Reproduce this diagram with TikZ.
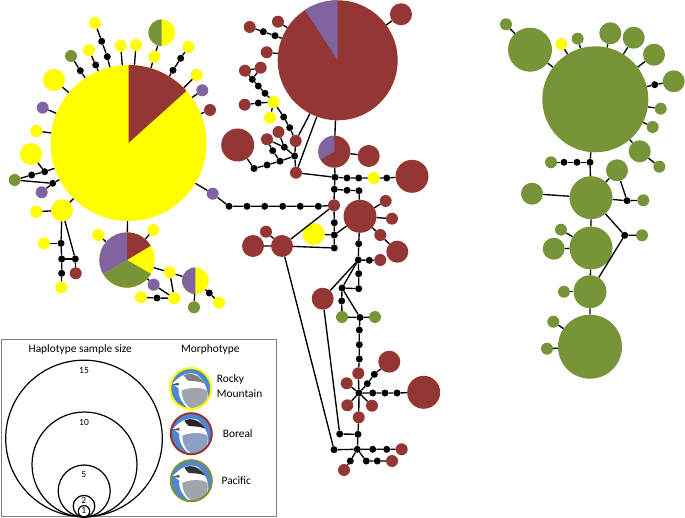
\documentclass[tikz,border=0pt]{standalone}
\usepackage{fontspec}
\setmainfont{Carlito}
\usepackage{tikz}
\usetikzlibrary{calc}
\definecolor{brn}{HTML}{943634}
\definecolor{yel}{HTML}{FFFF00}
\definecolor{grn}{HTML}{789438}
\definecolor{pur}{HTML}{8064A2}
\definecolor{sky}{HTML}{4F86D0}
\definecolor{wingA}{HTML}{A0A4AC}
\definecolor{wingB}{HTML}{8E9FC6}
\tikzset{
  hap/.style = {circle, inner sep = 0pt, fill = #1},
  hs/.style = {hap = #1, minimum size = 12pt},
  hm/.style = {hap = #1, minimum size = 22pt},
  hl/.style = {hap = #1, minimum size = 33pt},
  mv/.style = {circle, inner sep = 0pt, fill = black, minimum size = 7pt},
  link/.style = {line width = 1.35pt, black},
  scale ring/.style = {draw = black, line width = 1.2pt},
  txt/.style = {font = \fontsize{11.4pt}{13pt}\selectfont, inner sep = 0pt},
  num/.style = {font = \fontsize{9.5pt}{11pt}\selectfont, inner sep = 0pt}
}
% pie slice: node, start, end, radius, colour
\newcommand{\wedgeof}[5]{\fill[#5] (#1.center) -- ++(#2:#4pt) arc[start angle = #2, end angle = #3, radius = #4pt] -- cycle;}
% legend portrait: centre node, cap colour, wing colour
\newcommand{\gull}[3]{
  \begin{scope}[shift = {(#1.center)}]
    \clip (0,0) circle[radius = 20pt];
    \fill[sky] (-22,-22) rectangle (22,22);
    \fill[white] (-18,-5) .. controls (-10,-14) and (-2,-17) .. (6,-14) .. controls (13,-9) and (17,0) .. (17,8) .. controls (17,16) and (10,22) .. (0,22) .. controls (-8,16) and (-13,8) .. (-12,0) -- cycle;
    \fill[#3] (-9,2) .. controls (-2,-1) and (10,-2) .. (16,2) .. controls (18,10) and (14,20) .. (4,21) .. controls (-3,20) and (-9,12) .. cycle;
    \fill[#2] (-7,-13) .. controls (0,-17) and (9,-13) .. (14,-5) .. controls (8,-8) and (0,-7) .. (-3,-8) -- cycle;
    \fill[black!70] (-18,-4) -- (-12,-6) -- (-12,-3) -- cycle;
  \end{scope}
}

\begin{document}
\begin{tikzpicture}[x = 1pt, y = -1pt]
    \useasboundingbox (0,0) rectangle (685,518);

    % left group
    \node[hap = yel, minimum size = 156pt] (a0) at (128.5,143) {};
    \node[hs = yel] (a1) at (95,23) {};
    \node[mv] (a1p) at (101.7,41.3) {};
    \node[mv] (a1q) at (107.3,56.7) {};
    \node[hs = yel] (a2) at (89,50.3) {};
    \node[mv] (a2p) at (95.7,65) {};
    \node[hs = grn] (a3) at (71,56) {};
    \node[mv] (a3p) at (80.3,70.7) {};
    \node[hs = yel] (a4) at (120.7,45.7) {};
    \node[hs = yel] (a5) at (136,45) {};
    \node[hs = yel] (a6) at (154.3,56.7) {};
    \node[hap = yel, minimum size = 26.6pt] (a7) at (161.7,32.7) {};
    \node[hs = yel] (a8) at (188.3,47) {};
    \node[mv] (a8p) at (180.7,58.3) {};
    \node[mv] (a8q) at (173,70.3) {};
    \node[hs = yel] (a9) at (196.7,75) {};
    \node[hs = pur] (a10) at (202.3,90.3) {};
    \node[hs = brn] (a11) at (210,110) {};
    \node[hm = yel] (a12) at (54,80) {};
    \node[hs = pur] (a13) at (42.7,107.7) {};
    \node[hs = yel] (a14) at (36.3,131) {};
    \node[hm = yel] (a15) at (31,154) {};
    \node[mv] (a15p) at (44.7,171.7) {};
    \node[mv] (a16p) at (31.7,175) {};
    \node[hs = grn] (a16) at (14.7,180) {};
    \node[mv] (a17p) at (52.7,183.3) {};
    \node[hs = pur] (a17) at (41.7,192.3) {};
    \node[hm = yel] (a18) at (62,210.3) {};
    \node[hs = yel] (a19) at (36.3,211.7) {};
    \node[mv] (a20p) at (61,243.3) {};
    \node[hs = yel] (a20) at (44,243.3) {};
    \node[mv] (a21p) at (61.7,259) {};
    \node[mv] (a21q) at (61.7,273.3) {};
    \node[hs = yel] (a21) at (61.3,287.3) {};
    \node[mv] (a22p) at (75.3,259) {};
    \node[hs = brn] (a22) at (75.7,273.3) {};
    \node[hap = yel, minimum size = 55.4pt] (a23) at (127,260) {};
    \node[hs = yel] (a24) at (98.3,235) {};
    \node[hs = yel] (a25) at (153.3,230) {};
    \node[hs = yel] (a26) at (169.7,272.3) {};
    \node[hap = yel, minimum size = 26.6pt] (a27) at (195.3,280.7) {};
    \node[hs = pur] (a28) at (153.7,284.7) {};
    \node[hs = yel] (a29) at (174.3,298.3) {};
    \node[mv] (a30p) at (157,298) {};
    \node[hs = yel] (a30) at (141,297.3) {};
    \node[hs = grn] (a31) at (194,307.3) {};
    \node[mv] (a32p) at (209.3,293) {};
    \node[hs = yel] (a32) at (219,302.7) {};
    \node[hs = pur] (a33) at (212.7,193.7) {};

    \draw[link] (a1) -- (a1p) -- (a1q) -- (a0);
    \draw[link] (a2) -- (a2p) -- (a0);
    \draw[link] (a3) -- (a3p) -- (a0);
    \draw[link] (a4) -- (a0);
    \draw[link] (a5) -- (a0);
    \draw[link] (a7) -- (a6) -- (a0);
    \draw[link] (a8) -- (a8p) -- (a8q) -- (a0);
    \draw[link] (a9) -- (a0);
    \draw[link] (a10) -- (a0);
    \draw[link] (a11) -- (a0);
    \draw[link] (a12) -- (a0);
    \draw[link] (a13) -- (a0);
    \draw[link] (a14) -- (a0);
    \draw[link] (a15) -- (a15p) -- (a0);
    \draw[link] (a16) -- (a16p) -- (a15p);
    \draw[link] (a16) -- (a17p) -- (a0);
    \draw[link] (a17) -- (a17p);
    \draw[link] (a19) -- (a18) -- (a0);
    \draw[link] (a18) -- (a20p) -- (a21p) -- (a21q) -- (a21);
    \draw[link] (a20) -- (a20p);
    \draw[link] (a18) -- (a22p) -- (a22);
    \draw[link] (a21p) -- (a22p);
    \draw[link] (a0) -- (a23);
    \draw[link] (a24) -- (a23);
    \draw[link] (a25) -- (a23);
    \draw[link] (a23) -- (a26) -- (a27);
    \draw[link] (a26) -- (a29);
    \draw[link] (a23) -- (a28) -- (a29);
    \draw[link] (a30) -- (a30p) -- (a29);
    \draw[link] (a27) -- (a31);
    \draw[link] (a27) -- (a32p) -- (a32);

    \wedgeof{a0}{42}{90}{78}{brn}
    \wedgeof{a7}{90}{270}{13.3}{grn}
    \wedgeof{a23}{31}{90}{27.7}{brn}
    \wedgeof{a23}{-150}{-30}{27.7}{grn}
    \wedgeof{a23}{90}{210}{27.7}{pur}
    \wedgeof{a27}{90}{270}{13.3}{pur}

    % middle group
    \node[hap = brn, minimum size = 120pt] (b0) at (337.7,60.3) {};
    \node[hm = brn] (b1) at (401,14.3) {};
    \node[hs = brn] (b2) at (278,21.7) {};
    \node[hs = brn] (b3) at (249.7,27) {};
    \node[mv] (b3p) at (263.3,31.7) {};
    \node[mv] (b3q) at (275,35.7) {};
    \node[hs = brn] (b4) at (266.7,52.3) {};
    \node[hs = brn] (b5) at (245,70.7) {};
    \node[hs = brn] (b6) at (260.7,67.7) {};
    \node[mv] (b6p) at (252.3,79.3) {};
    \node[mv] (b6q) at (258.3,86) {};
    \node[mv] (b6r) at (265,93.3) {};
    \node[hs = yel] (b7) at (273.7,102) {};
    \node[mv] (b8p) at (258.3,103) {};
    \node[hs = brn] (b8) at (244.7,104.7) {};
    \node[hs = yel] (b9) at (270,117.7) {};
    \node[mv] (b10p) at (283.7,117) {};
    \node[mv] (b10q) at (289.7,127.7) {};
    \node[hs = brn] (b10) at (295.7,141) {};
    \node[hs = brn] (b11) at (278.5,132) {};
    \node[hs = brn] (b12) at (267,139.3) {};
    \node[mv] (b11p) at (284.3,147.2) {};
    \node[mv] (b12p) at (272.7,150.7) {};
    \node[mv] (b13) at (294.7,156) {};
    \node[mv] (b14p) at (280,161.2) {};
    \node[mv] (b14q) at (267,165) {};
    \node[mv] (b14r) at (254,168.5) {};
    \node[hl = brn] (b14) at (237.7,145) {};
    \node[hs = brn] (b15) at (296,172.7) {};
    \node[hap = brn, minimum size = 32pt] (b16) at (334.3,151.7) {};
    \node[hm = brn] (b17) at (368.7,156) {};
    \node[mv] (c1) at (335,177.3) {};
    \node[mv] (c1p) at (347,178) {};
    \node[mv] (c1q) at (358.7,178) {};
    \node[hs = yel] (c2) at (373.7,178) {};
    \node[mv] (c2p) at (386.7,178) {};
    \node[hl = brn] (c3) at (412,176.3) {};
    \node[mv] (c4) at (334.3,189.3) {};
    \node[mv] (c4p) at (347,190.3) {};
    \node[mv] (c4q) at (359,190.7) {};
    \node[hl = brn] (c5) at (360,216.3) {};
    \node[hs = brn] (c6) at (334,205.3) {};
    \node[mv] (c6a) at (229,206.3) {};
    \node[mv] (c6b) at (247,206.3) {};
    \node[mv] (c6c) at (264.7,206.3) {};
    \node[mv] (c6d) at (282.7,206.3) {};
    \node[mv] (c6e) at (300.3,206.3) {};
    \node[mv] (c6f) at (318.3,206.3) {};
    \node[mv] (c7) at (334.3,222.7) {};
    \node[mv] (c8) at (334.3,235) {};
    \node[mv] (c9) at (334.3,248) {};
    \node[hm = yel] (c10) at (313.7,234) {};
    \node[hm = brn] (c11) at (282,246) {};
    \node[hm = brn] (c12) at (253,246) {};
    \node[hs = brn] (c13) at (266,231.7) {};
    \node[hs = brn] (c14) at (385.7,201) {};
    \node[hs = brn] (c15) at (392,218.7) {};
    \node[hs = brn] (c16) at (380.3,235) {};
    \node[hm = brn] (c17) at (397.3,251.7) {};
    \node[mv] (c18) at (358.7,243.7) {};
    \node[mv] (c19) at (358.3,260) {};
    \node[mv] (c20p) at (369.3,260.3) {};
    \node[hs = brn] (c20) at (380.3,260) {};
    \node[mv] (c21) at (358.7,273.7) {};
    \node[mv] (c22) at (358.7,288.7) {};
    \node[mv] (c23) at (342,288) {};
    \node[mv] (c24) at (341.7,301) {};
    \node[hs = grn] (c25) at (342,317) {};
    \node[mv] (c26) at (360,317.5) {};
    \node[hs = grn] (c27) at (375,317) {};
    \node[hm = brn] (c28) at (322.7,298.7) {};
    \node[mv] (d1) at (359.3,330) {};
    \node[mv] (d2) at (359.3,344.7) {};
    \node[mv] (d3) at (359.3,359) {};
    \node[hs = brn] (d4) at (358.3,373.3) {};
    \node[mv] (d5) at (359,393) {};
    \node[hs = brn] (d6) at (346.7,383.3) {};
    \node[hs = brn] (d7) at (347.3,405.3) {};
    \node[hs = brn] (d8) at (372,405.7) {};
    \node[hs = brn] (d9) at (358.7,417.3) {};
    \node[mv] (d10p) at (367.3,383.7) {};
    \node[mv] (d10q) at (374.3,374.3) {};
    \node[hm = brn] (d10) at (389.3,361.7) {};
    \node[mv] (d11p) at (372.7,393) {};
    \node[mv] (d11q) at (385,393) {};
    \node[mv] (d11r) at (397,393) {};
    \node[hl = brn] (d11) at (423.7,392.3) {};
    \node[mv] (d12) at (358,434.3) {};
    \node[mv] (d13) at (339.7,434) {};
    \node[mv] (d14) at (357.3,449.3) {};
    \node[mv] (d15) at (334,449.7) {};
    \node[mv] (d16p) at (372.7,449.3) {};
    \node[mv] (d16q) at (386.7,449.3) {};
    \node[hs = brn] (d16) at (401.7,449.3) {};
    \node[mv] (d17p) at (366.3,461) {};
    \node[mv] (d17q) at (377.3,461) {};
    \node[hs = brn] (d17) at (392,461) {};
    \node[mv] (d18p) at (350.3,461) {};
    \node[hs = brn] (d18) at (344,470) {};

    \draw[link] (a33) -- (a0);
    \draw[link] (a33) -- (c6a) -- (c6b) -- (c6c) -- (c6d) -- (c6e) -- (c6f) -- (c6);
    \draw[link] (b1) -- (b0);
    \draw[link] (b2) -- (b0);
    \draw[link] (b3) -- (b3p) -- (b3q) -- (b0);
    \draw[link] (b4) -- (b0);
    \draw[link] (b5) -- (b6);
    \draw[link] (b5) -- (b6p);
    \draw[link] (b6) -- (b6p) -- (b6q) -- (b6r) -- (b7);
    \draw[link] (b8) -- (b8p) -- (b7);
    \draw[link] (b7) -- (b9);
    \draw[link] (b7) -- (b10p) -- (b10q) -- (b10) -- (b0);
    \draw[link] (b10) -- (b13);
    \draw[link] (b11) -- (b11p) -- (b13);
    \draw[link] (b12) -- (b11p);
    \draw[link] (b12) -- (b12p) -- (b14p);
    \draw[link] (b13) -- (b14p) -- (b14q) -- (b14r) -- (b14);
    \draw[link] (b13) -- (b15) -- (b0);
    \draw[link] (b0) -- (b16) -- (b17);
    \draw[link] (b15) -- (c1);
    \draw[link] (b16) -- (c1) -- (c4) -- (c6) -- (c7) -- (c8) -- (c9);
    \draw[link] (c1) -- (c1p) -- (c1q) -- (c2) -- (c2p) -- (c3);
    \draw[link] (c4) -- (c4p) -- (c4q) -- (c5);
    \draw[link] (c10) -- (c8) -- (c5);
    \draw[link] (c12) -- (c11) -- (c13);
    \draw[link] (c11) -- (c6);
    \draw[link] (c11) -- (c9);
    \draw[link] (c11) -- (d15);
    \draw[link] (c5) -- (c14);
    \draw[link] (c5) -- (c15);
    \draw[link] (c5) -- (c16) -- (c17);
    \draw[link] (c5) -- (c18) -- (c19) -- (c21) -- (c22) -- (c23) -- (c24) -- (c25);
    \draw[link] (c19) -- (c20p) -- (c20);
    \draw[link] (c19) -- (c23) -- (c26);
    \draw[link] (c19) -- (c28) -- (d13);
    \draw[link] (c25) -- (c26) -- (c27);
    \draw[link] (c26) -- (d1) -- (d2) -- (d3) -- (d4) -- (d5) -- (d9) -- (d12) -- (d14);
    \draw[link] (d5) -- (d6);
    \draw[link] (d5) -- (d7);
    \draw[link] (d5) -- (d8);
    \draw[link] (d5) -- (d10p) -- (d10q) -- (d10);
    \draw[link] (d5) -- (d11p) -- (d11q) -- (d11r) -- (d11);
    \draw[link] (d13) -- (d12);
    \draw[link] (d15) -- (d14) -- (d16p) -- (d16q) -- (d16);
    \draw[link] (d14) -- (d17p) -- (d17q) -- (d17);
    \draw[link] (d14) -- (d18p) -- (d18);

    \wedgeof{b0}{90}{123}{60}{pur}
    \wedgeof{b16}{90}{210}{16}{pur}

    % right group
    \node[hap = grn, minimum size = 106pt] (e0) at (595.3,99.3) {};
    \node[hap = grn, minimum size = 44pt] (e1) at (530,49.7) {};
    \node[hs = grn] (e2) at (506,24.3) {};
    \node[hs = yel] (e3) at (561.3,44) {};
    \node[hs = grn] (e4) at (577.7,38.7) {};
    \node[hm = grn] (e5) at (610.3,33.3) {};
    \node[hm = grn] (e6) at (633.7,37.7) {};
    \node[hm = grn] (e7) at (654,54.7) {};
    \node[mv] (e8p) at (654.7,84.7) {};
    \node[hm = grn] (e8) at (673.7,81.3) {};
    \node[hs = grn] (e9) at (660.7,108.7) {};
    \node[hs = grn] (e10) at (652.7,127) {};
    \node[hm = grn] (e11) at (639.7,151.3) {};
    \node[hs = grn] (e12) at (659.3,166.7) {};
    \node[mv] (e13) at (590,162.3) {};
    \node[mv] (e13p) at (577,162.3) {};
    \node[mv] (e13q) at (564,162.3) {};
    \node[hs = grn] (e14) at (551,162.3) {};
    \node[hap = grn, minimum size = 43pt] (f1) at (591,197.7) {};
    \node[hm = grn] (f2) at (617,170.3) {};
    \node[hm = grn] (f3) at (532,193.7) {};
    \node[mv] (f4p) at (627,200.7) {};
    \node[hs = grn] (f4) at (643.3,200.3) {};
    \node[mv] (f5p) at (624.7,235.3) {};
    \node[hs = grn] (f5) at (642,235.3) {};
    \node[hap = grn, minimum size = 43pt] (f6) at (591,248) {};
    \node[hs = grn] (f7) at (561,229.7) {};
    \node[hm = grn] (f8) at (553.7,248.7) {};
    \node[hl = grn] (f9) at (590,291.7) {};
    \node[hs = grn] (f10) at (564,291.7) {};
    \node[hap = grn, minimum size = 64pt] (f11) at (590,346.7) {};
    \node[hs = grn] (f12) at (553.3,321.7) {};
    \node[hs = grn] (f13) at (547,348.7) {};

    \draw[link] (e2) -- (e1) -- (e0);
    \draw[link] (e3) -- (e0);
    \draw[link] (e4) -- (e0);
    \draw[link] (e5) -- (e0);
    \draw[link] (e6) -- (e0);
    \draw[link] (e7) -- (e0);
    \draw[link] (e8) -- (e8p) -- (e0);
    \draw[link] (e9) -- (e0);
    \draw[link] (e10) -- (e0);
    \draw[link] (e12) -- (e11) -- (e0);
    \draw[link] (e0) -- (e13) -- (f1);
    \draw[link] (e13) -- (e13p) -- (e13q) -- (e14);
    \draw[link] (f2) -- (f1);
    \draw[link] (f3) -- (f1);
    \draw[link] (f2) -- (f4p) -- (f1);
    \draw[link] (f4p) -- (f4);
    \draw[link] (f1) -- (f5p) -- (f5);
    \draw[link] (f5p) -- (f9);
    \draw[link] (f1) -- (f6) -- (f9) -- (f11);
    \draw[link] (f7) -- (f6);
    \draw[link] (f8) -- (f6);
    \draw[link] (f10) -- (f9);
    \draw[link] (f12) -- (f11);
    \draw[link] (f13) -- (f11);

    % legend
    \node[draw = gray, line width = 0.8pt, inner sep = 0pt, minimum width = 275.7pt, minimum height = 177.7pt] (box) at (138.8,427.8) {};
    \node[txt] (title1) at (80.3,349.7) {Haplotype sample size};
    \node[txt] (title2) at (210.3,349.7) {Morphotype};
    \node[scale ring, circle, inner sep = 0pt, minimum size = 156.6pt] (r15) at (84,438.5) {};
    \node[scale ring, circle, inner sep = 0pt, minimum size = 105pt] (r10) at (84.5,464.5) {};
    \node[scale ring, circle, inner sep = 0pt, minimum size = 52pt] (r5) at (84.2,491) {};
    \node[scale ring, circle, inner sep = 0pt, minimum size = 21.6pt] (r2) at (84,506.2) {};
    \node[scale ring, circle, inner sep = 0pt, minimum size = 11.4pt] (r1) at (84,511.3) {};
    \node[num] (n15) at (84,370.3) {15};
    \node[num] (n10) at (84,422.3) {10};
    \node[num] (n5) at (83.7,474.3) {5};
    \node[num] (n2) at (83.7,500.7) {2};
    \node[num] (n1) at (83.7,510.7) {1};

    \coordinate (rocky) at (190.7,388.5);
    \coordinate (boreal) at (191.3,433.7);
    \coordinate (pacific) at (191.3,480.7);
    \gull{rocky}{gray}{wingA}
    \gull{boreal}{black!85}{wingB}
    \gull{pacific}{black!80}{wingA}
    \node[circle, draw = yel, line width = 2pt, inner sep = 0pt, minimum size = 41pt] (ring1) at (rocky) {};
    \node[circle, draw = brn, line width = 2pt, inner sep = 0pt, minimum size = 41pt] (ring2) at (boreal) {};
    \node[circle, draw = grn, line width = 2pt, inner sep = 0pt, minimum size = 41pt] (ring3) at (pacific) {};
    \node[txt, anchor = west] (lab1) at (216.7,379.7) {Rocky};
    \node[txt, anchor = west] (lab1b) at (216.7,394) {Mountain};
    \node[txt] (lab2) at (237.7,433.3) {Boreal};
    \node[txt] (lab3) at (236.3,481) {Pacific};
\end{tikzpicture}
\end{document}
